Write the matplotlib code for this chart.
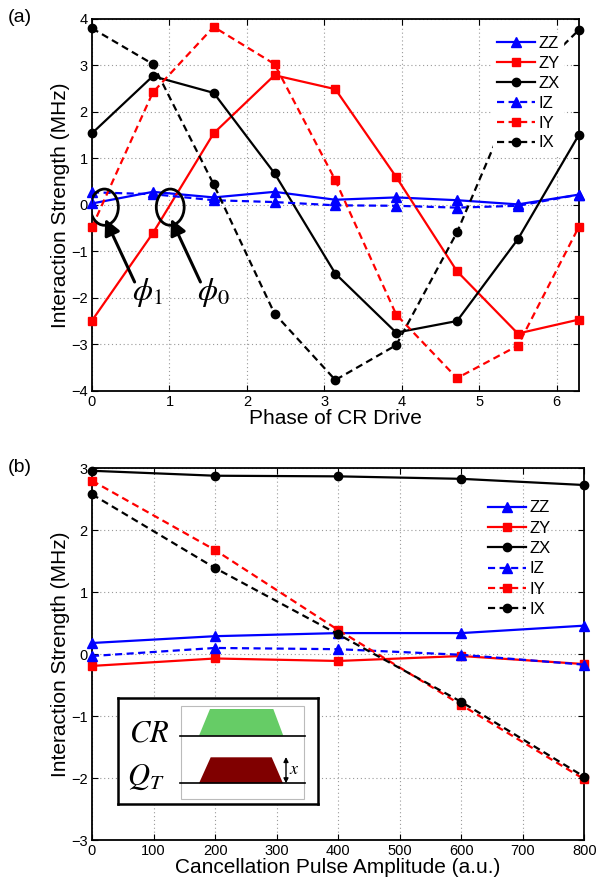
import numpy as np
import matplotlib
matplotlib.use("Agg")
import matplotlib.pyplot as plt
from matplotlib.patches import Ellipse, Polygon, Rectangle

plt.rcParams['font.family'] = ['Liberation Sans', 'DejaVu Sans']
plt.rcParams['mathtext.fontset'] = 'stix'

# ---- panel (a): phase sweep ----
phase = np.arange(9) * np.pi / 4
a_ZZ = [0.03, 0.28, 0.16, 0.28, 0.11, 0.16, 0.10, 0.01, 0.22]
a_ZY = [-2.49, -0.61, 1.54, 2.79, 2.49, 0.60, -1.43, -2.77, -2.47]
a_ZX = [1.54, 2.77, 2.41, 0.68, -1.48, -2.75, -2.50, -0.74, 1.50]
a_IZ = [0.27, 0.23, 0.10, 0.06, -0.01, -0.02, -0.06, -0.02, 0.22]
a_IY = [-0.48, 2.42, 3.83, 3.03, 0.53, -2.36, -3.73, -3.03, -0.48]
a_IX = [3.80, 3.03, 0.44, -2.34, -3.77, -3.02, -0.59, 2.48, 3.76]

# ---- panel (b): cancellation amplitude sweep ----
amp = [0, 200, 400, 600, 800]
b_ZZ = [0.18, 0.29, 0.34, 0.34, 0.46]
b_ZY = [-0.19, -0.07, -0.11, -0.03, -0.16]
b_ZX = [2.96, 2.88, 2.87, 2.83, 2.73]
b_IZ = [-0.03, 0.10, 0.08, -0.01, -0.17]
b_IY = [2.80, 1.68, 0.39, -0.82, -2.02]
b_IX = [2.58, 1.39, 0.32, -0.77, -1.98]

labels = ["ZZ", "ZY", "ZX", "IZ", "IY", "IX"]
colors = ["blue", "red", "black", "blue", "red", "black"]
markers = ["^", "s", "o", "^", "s", "o"]
msizes = [7, 6, 6, 7, 6, 6]
dash = (0, (3.2, 2.0))
styles = ["-", "-", "-", dash, dash, dash]

W, H = 600, 884
fig = plt.figure(figsize=(W / 100, H / 100), dpi=100)

def px_axes(l, r, t, b):
    return fig.add_axes([l / W, (H - b) / H, (r - l) / W, (b - t) / H])

def style_axes(ax):
    ax.grid(True, linestyle=(0, (1, 2.5)), color="#999999", linewidth=0.8)
    ax.tick_params(direction="in", top=True, right=True, labelsize=10.5,
                   length=4, width=0.8, pad=3)
    for s in ax.spines.values():
        s.set_linewidth(1.3)

def draw_series(ax, x, series):
    for y, lab, c, m, ms, ls in zip(series, labels, colors, markers, msizes, styles):
        ax.plot(x, y, color=c, marker=m, markersize=ms, linestyle=ls,
                linewidth=1.6, label=lab, clip_on=False, zorder=3)

ax1 = px_axes(92, 578.7, 19, 390.7)
draw_series(ax1, phase, [a_ZZ, a_ZY, a_ZX, a_IZ, a_IY, a_IX])
ax1.set_xlim(0, 2 * np.pi)
ax1.set_ylim(-4, 4)
ax1.set_xticks(range(7))
ax1.set_yticks(range(-4, 5))
style_axes(ax1)
ax1.set_xlabel("Phase of CR Drive", fontsize=15, labelpad=0)
ax1.set_ylabel("Interaction Strength (MHz)", fontsize=15, labelpad=1)
leg = ax1.legend(loc="upper right", bbox_to_anchor=(0.985, 0.985), fontsize=12,
                 handlelength=2.3, handletextpad=0.2, labelspacing=0.29,
                 frameon=True, fancybox=False, edgecolor="white", framealpha=1,
                 borderpad=0.2)
leg.set_zorder(5)

# ellipses and arrows marking phi_1 / phi_0
for cx, lab, tx in [(0.16, r"$\phi_1$", 0.72), (1.01, r"$\phi_0$", 1.57)]:
    ax1.add_patch(Ellipse((cx, -0.05), 0.36, 0.78, fill=False, lw=2.0,
                          edgecolor="k", zorder=4))
    ax1.annotate("", xy=(cx + 0.01, -0.3), xytext=(cx + 0.39, -1.66),
                 arrowprops=dict(arrowstyle="-|>", lw=2.2, color="k",
                                 mutation_scale=24, shrinkA=0, shrinkB=0),
                 zorder=4)
    ax1.text(tx, -1.88, lab, fontsize=23, ha="center", va="center")

fig.text(8 / W, 1 - 18 / H, "(a)", fontsize=14, va="center")

ax2 = px_axes(92, 584.3, 468.3, 840)
draw_series(ax2, amp, [b_ZZ, b_ZY, b_ZX, b_IZ, b_IY, b_IX])
ax2.set_xlim(0, 800)
ax2.set_ylim(-3, 3)
ax2.set_xticks(range(0, 801, 100))
ax2.set_yticks(range(-3, 4))
style_axes(ax2)
ax2.set_xlabel("Cancellation Pulse Amplitude (a.u.)", fontsize=15, labelpad=0)
ax2.set_ylabel("Interaction Strength (MHz)", fontsize=15, labelpad=1)
leg2 = ax2.legend(loc="upper right", bbox_to_anchor=(0.955, 0.945), fontsize=12,
                  handlelength=2.3, handletextpad=0.2, labelspacing=0.32,
                  frameon=False, borderpad=0.2)

fig.text(8 / W, 1 - 467 / H, "(b)", fontsize=14, va="center")

# inset schematic of the pulses (pixel coordinates inside the inset box)
ins = px_axes(118, 318, 697.7, 804)
ins.set_xlim(118, 318)
ins.set_ylim(804, 697.7)
ins.set_xticks([])
ins.set_yticks([])
for s in ins.spines.values():
    s.set_linewidth(1.8)
ins.add_patch(Rectangle((180.7, 706), 123.6, 93, fill=False, edgecolor="#bbbbbb", lw=0.8))
ins.plot([180, 305], [735.7, 735.7], color="k", lw=1.2)
ins.plot([180, 305], [783.3, 783.3], color="k", lw=1.2)
ins.add_patch(Polygon([(199, 735.7), (210, 709), (273.3, 709), (283.3, 735.7)],
                      closed=True, facecolor="#66cc66", edgecolor="none"))
ins.add_patch(Polygon([(199, 783.3), (210.7, 757.3), (271.7, 757.3), (283, 783.3)],
                      closed=True, facecolor="#800000", edgecolor="none"))
ins.annotate("", xy=(286, 757), xytext=(286, 783.3),
             arrowprops=dict(arrowstyle="<|-|>", lw=1.0, color="k",
                             mutation_scale=7, shrinkA=0, shrinkB=0))
ins.text(289, 769, r"$x$", fontsize=13, va="center")
ins.text(149, 733, r"$CR$", fontsize=22, ha="center", va="center")
ins.text(146, 777, r"$Q_T$", fontsize=22, ha="center", va="center")

fig.savefig("out.png", dpi=100)
